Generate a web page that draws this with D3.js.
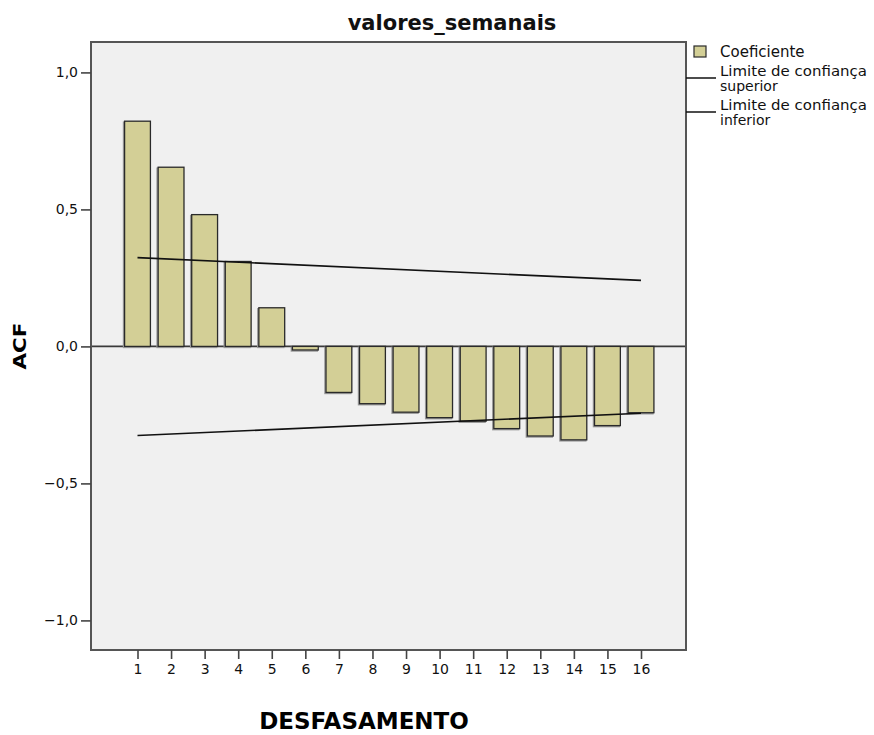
<!DOCTYPE html>
<html>
<head>
<meta charset="utf-8">
<script src="https://cdn.jsdelivr.net/npm/d3@7"></script>
<style>
  body { margin: 0; background: #fff; }
  text { font-family: "DejaVu Sans", sans-serif; }
</style>
</head>
<body>
<svg id="acf" width="874" height="735"></svg>
<script>
// data
var lags = [1, 2, 3, 4, 5, 6, 7, 8, 9, 10, 11, 12, 13, 14, 15, 16];
var coef = [0.822, 0.654, 0.481, 0.310, 0.141, -0.013, -0.168, -0.209, -0.240, -0.260, -0.273, -0.300, -0.327, -0.341, -0.289, -0.242];
var confLags = [1, 16];
var upperLimit = [0.324, 0.241];
var lowerLimit = [-0.325, -0.244];
var yTicks = [-1, -0.5, 0, 0.5, 1];
var yTickLabels = ["\u22121,0", "\u22120,5", "0,0", "0,5", "1,0"];

var plotL = 91, plotR = 686, plotT = 42, plotB = 650;

function draw()
{
    var svg = d3.select("svg"),
        x = d3.scalePoint().domain(lags).range([137.5, 641]),
        y = d3.scaleLinear().domain([-1.108, 1.111]).range([plotB, plotT]),
        barW = x.step() * 0.77;

    // plot background
    svg.append("rect")
      .attr("x", plotL).attr("y", plotT)
      .attr("width", plotR - plotL).attr("height", plotB - plotT)
      .attr("fill", "#f0f0f0");

    // zero line
    svg.append("line")
      .attr("x1", plotL).attr("x2", plotR)
      .attr("y1", y(0)).attr("y2", y(0))
      .attr("stroke", "#3a3a3a").attr("stroke-width", 1.6);

    // bars (faint shadow then bar)
    svg.selectAll(".shadow").data(lags).enter().append("rect")
      .attr("x", function(d) { return x(d) - barW / 2 - 1; })
      .attr("y", function(d, i) { return Math.min(y(coef[i]), y(0)) + 1; })
      .attr("width", barW)
      .attr("height", function(d, i) { return Math.abs(y(coef[i]) - y(0)); })
      .attr("fill", "none").attr("stroke", "#999").attr("stroke-width", 1.5);

    svg.selectAll(".bar").data(lags).enter().append("rect")
      .attr("x", function(d) { return x(d) - barW / 2; })
      .attr("y", function(d, i) { return Math.min(y(coef[i]), y(0)); })
      .attr("width", barW)
      .attr("height", function(d, i) { return Math.abs(y(coef[i]) - y(0)); })
      .attr("fill", "#d3cf96").attr("stroke", "#2a2a2a").attr("stroke-width", 1.3);

    // confidence limits
    var line = d3.line().x(function(d) { return x(d[0]); }).y(function(d) { return y(d[1]); });
    [upperLimit, lowerLimit].forEach(function(lim) {
      svg.append("path")
        .attr("d", line(confLags.map(function(l, i) { return [l, lim[i]]; })))
        .attr("fill", "none").attr("stroke", "#111").attr("stroke-width", 1.6);
    });

    // frame
    svg.append("rect")
      .attr("x", plotL).attr("y", plotT)
      .attr("width", plotR - plotL).attr("height", plotB - plotT)
      .attr("fill", "none").attr("stroke", "#555").attr("stroke-width", 2);

    // y axis
    var yAxis = svg.append("g").attr("transform", "translate(" + plotL + ",0)")
      .call(d3.axisLeft(y).tickValues(yTicks).tickSize(10).tickPadding(3)
        .tickFormat(function(d, i) { return yTickLabels[i]; }));
    yAxis.select(".domain").remove();
    yAxis.selectAll(".tick line").attr("stroke", "#444").attr("stroke-width", 1.6);
    yAxis.selectAll("text").attr("font-family", "DejaVu Sans").attr("font-size", 14).attr("fill", "#111");

    // x axis
    var xAxis = svg.append("g").attr("transform", "translate(0," + plotB + ")")
      .call(d3.axisBottom(x).tickSize(9).tickPadding(5));
    xAxis.select(".domain").remove();
    xAxis.selectAll(".tick line").attr("stroke", "#444").attr("stroke-width", 1.6);
    xAxis.selectAll("text").attr("font-family", "DejaVu Sans").attr("font-size", 14).attr("fill", "#111");

    // title and axis titles
    svg.append("text").attr("x", 452).attr("y", 30).attr("text-anchor", "middle")
      .attr("font-weight", "bold").attr("font-size", 21).attr("fill", "#111")
      .text("valores_semanais");

    svg.append("text").attr("x", 364).attr("y", 729).attr("text-anchor", "middle")
      .attr("font-family", "Liberation Sans").attr("font-weight", "bold")
      .attr("font-size", 23).attr("fill", "#000")
      .text("DESFASAMENTO");

    svg.append("text").attr("transform", "translate(26,346) rotate(-90)")
      .attr("text-anchor", "middle")
      .attr("font-family", "Liberation Sans").attr("font-weight", "bold")
      .attr("font-size", 18).attr("fill", "#000")
      .attr("textLength", 47).attr("lengthAdjust", "spacingAndGlyphs")
      .text("ACF");

    // legend
    var lg = svg.append("g");
    lg.append("rect").attr("x", 694).attr("y", 46).attr("width", 12).attr("height", 11)
      .attr("fill", "#d3cf96").attr("stroke", "#2a2a2a").attr("stroke-width", 1.2);
    lg.append("text").attr("x", 720).attr("y", 57).attr("font-size", 15).attr("fill", "#111").text("Coeficiente");
    [["Limite de confiança", "superior", 76], ["Limite de confiança", "inferior", 110]].forEach(function(it) {
      lg.append("line").attr("x1", plotR).attr("x2", 716).attr("y1", it[2] + 2).attr("y2", it[2] + 2)
        .attr("stroke", "#111").attr("stroke-width", 1.5);
      lg.append("text").attr("x", 720).attr("y", it[2]).attr("font-size", 14)
        .attr("textLength", 147).attr("lengthAdjust", "spacingAndGlyphs")
        .attr("fill", "#111").text(it[0]);
      lg.append("text").attr("x", 720).attr("y", it[2] + 15).attr("font-size", 14).attr("fill", "#111").text(it[1]);
    });
}

draw();
</script>
</body>
</html>
